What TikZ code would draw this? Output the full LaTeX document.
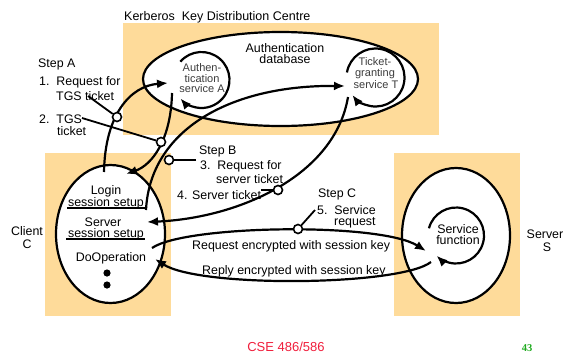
\documentclass[tikz,border=0pt]{standalone}
\usepackage{fontspec}
\setmainfont{Liberation Sans}
\newfontfamily\pgnumfont{Liberation Serif}
\usetikzlibrary{arrows.meta,shapes.geometric,calc}
\definecolor{peach}{RGB}{254,219,154}
\definecolor{innergray}{RGB}{60,60,60}
\definecolor{cseRed}{RGB}{240,30,60}
\definecolor{pgGreen}{RGB}{30,170,30}
\tikzset{
  box/.style={fill=peach, draw=none},
  bigring/.style={draw=black, line width=2.2pt, fill=white},
  conn/.style={draw=black, line width=2.2pt, -{Latex[length=11pt,width=9pt]}},
  leader/.style={draw=black, line width=1.8pt},
  marker/.style={circle, draw=black, line width=1.6pt, fill=white, inner sep=0pt, minimum size=9pt},
  lbl/.style={font=\fontsize{12.4}{12.4}\selectfont, anchor=base west, inner sep=0pt},
  clbl/.style={font=\fontsize{12.4}{12.4}\selectfont, anchor=base, inner sep=0pt},
  ilbl/.style={font=\fontsize{11}{11}\selectfont, anchor=base, inner sep=0pt, text=innergray},
  uline/.style={draw=black, line width=2.2pt}
}
\begin{document}
\begin{tikzpicture}[x=1pt,y=-1pt]
\useasboundingbox (0,0) rectangle (564,354);
% backgrounds
\fill[box] (123,23) rectangle (439,135);
\fill[box] (45,153) rectangle (171,316);
\fill[box] (394,153) rectangle (520,316);
% big ellipses
\node[bigring, ellipse, minimum width=275pt, minimum height=94pt] (db) at (280.5,79) {};
\node[bigring, ellipse, minimum width=109pt, minimum height=138pt] (client) at (110.5,234) {};
\node[bigring, ellipse, minimum width=108pt, minimum height=135pt] (server) at (456,235.5) {};
% coordinates
\coordinate (A) at (201.5,80);
\coordinate (T) at (375.5,77.5);
\coordinate (F) at (456,235.5);
% inner circular arrows
\draw[conn] ($(A)+(221:28)$) arc[start angle=221, end angle=499, radius=28];
\draw[conn] ($(T)+(190:29)$) arc[start angle=190, end angle=503, radius=29];
\draw[conn] ($(F)+(195:28)$) arc[start angle=195, end angle=494, radius=28];
% titles
\node[lbl, font=\fontsize{12.5}{12.5}\selectfont] (kdc) at (124,20) {Kerberos\ \ Key Distribution Centre};
\node[clbl] (auth1) at (285,52) {Authentication};
\node[clbl] (auth2) at (285,63) {database};
% inner texts
\node[ilbl] (as1) at (202,71) {Authen-};
\node[ilbl] (as2) at (202,82) {tication};
\node[ilbl] (as3) at (202,92.5) {service A};
\node[ilbl] (ts1) at (375,65) {Ticket-};
\node[ilbl] (ts2) at (375,76) {granting};
\node[ilbl] (ts3) at (376,88) {service T};
\node[clbl] (sf1) at (458,233) {Service};
\node[clbl] (sf2) at (458,244) {function};
% client texts
\node[clbl] (lg1) at (106,194) {Login};
\node[clbl] (lg2) at (106,206) {session setup};
\node[clbl] (ss1) at (103,226) {Server};
\node[clbl] (ss2) at (106,237) {session setup};
\node[clbl] (dop) at (111,261) {DoOperation};
\coordinate (u1a) at (67,208); \coordinate (u1b) at (145,208);
\coordinate (u2a) at (66,239); \coordinate (u2b) at (145,239);
\draw[uline] (u1a) -- (u1b);
\draw[uline] (u2a) -- (u2b);
\fill (107,273) circle (3.6pt);
\fill (107,285) circle (3.6pt);
% side labels
\node[clbl] (cl1) at (27,235) {Client};
\node[clbl] (cl2) at (27,248) {C};
\node[clbl] (sv1) at (545,238) {Server};
\node[clbl] (sv2) at (547,251) {S};
% step labels
\node[lbl] (sa) at (38,67) {Step A};
\node[lbl] (sa1) at (39,85) {1.\ \ Request for};
\node[lbl] (sa1b) at (56,100) {TGS ticket};
\node[lbl] (sa2) at (39,123) {2.\ \ TGS};
\node[lbl] (sa2b) at (57,135) {ticket};
\node[lbl] (sb) at (199,154) {Step B};
\node[lbl] (sb3) at (200,169) {3.\ \ Request for};
\node[lbl] (sb3b) at (216,183) {server ticket};
\node[lbl] (sb4) at (177,199) {4. Server ticket};
\node[lbl] (sc) at (318,197) {Step C};
\node[lbl] (sc5) at (317,214) {5.\ \ Service};
\node[lbl] (sc5b) at (334,225) {request};
\node[lbl] (req) at (192,249) {Request encrypted with session key};
\node[lbl] (rep) at (202,274) {Reply encrypted with session key};
% connector end points
\coordinate (c1s) at (104,172);
\coordinate (c1e) at (168,83);
\coordinate (c2s) at (172,93);
\coordinate (c2e) at (126,174);
\coordinate (c3s) at (146,210);
\coordinate (c3e) at (345,86);
\coordinate (c4s) at (348,97);
\coordinate (c4e) at (147,222);
\coordinate (c5s) at (152,248);
\coordinate (c5e) at (426,251);
\coordinate (c6s) at (431,262);
\coordinate (c6e) at (155,259);
% connectors
\draw[conn] (c1s) .. controls (105,115) and (130,86) .. (c1e);
\draw[conn] (c2s) .. controls (171,140) and (152,165) .. (c2e);
\draw[conn] (c3s) .. controls (150,130) and (230,85) .. (c3e);
\draw[conn] (c4s) .. controls (335,175) and (240,218) .. (c4e);
\draw[conn] (c5s) .. controls (185,225) and (380,222) .. (c5e);
\draw[conn] (c6s) .. controls (400,286) and (200,288) .. (c6e);
% markers
\node[marker] (m1) at (117,117) {};
\node[marker] (m2) at (161,142) {};
\node[marker] (m3) at (169,160) {};
\node[marker] (m4) at (278,190) {};
\node[marker] (m5) at (298,229) {};
\coordinate (l1) at (88,96);
\coordinate (l2) at (82,118);
\coordinate (l3) at (196,160);
\coordinate (l4) at (261,190);
\coordinate (l5) at (315,210);
\draw[leader] (l1) -- (m1);
\draw[leader] (l2) -- (m2);
\draw[leader] (l3) -- (m3);
\draw[leader] (l4) -- (m4);
\draw[leader] (l5) -- (m5);
% footer
\node[clbl, font=\fontsize{13}{13}\selectfont, text=cseRed] (cse) at (286,351) {CSE 486/586};
\node[clbl, font=\pgnumfont\bfseries\fontsize{10.5}{10.5}\selectfont, text=pgGreen] (pg) at (527,351) {43};
\end{tikzpicture}
\end{document}
